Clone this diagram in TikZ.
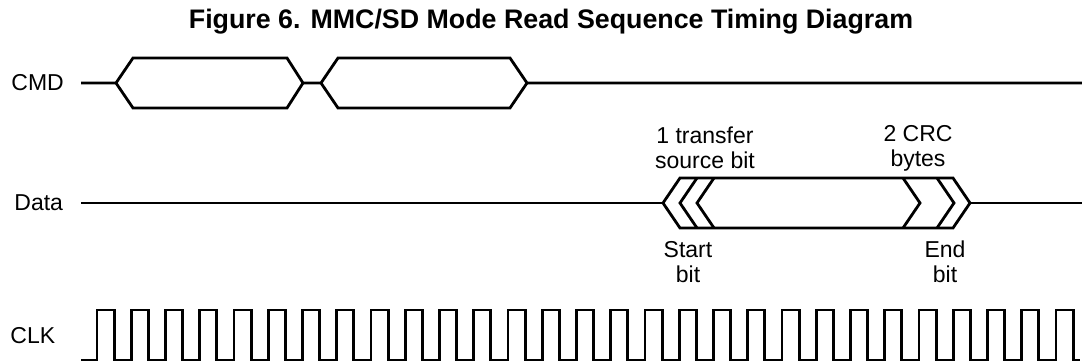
\documentclass[tikz,border=0pt]{standalone}
\usepackage{fontspec}
\setmainfont{Liberation Sans}
\usepackage{tikz}

\begin{document}
\begin{tikzpicture}[x=0.5pt,y=-0.5pt,
	wave/.style={line width=1.4pt,line join=miter},
	lbl/.style={font=\fontsize{11.5}{12.5}\selectfont,inner sep=0pt},
	note/.style={lbl,align=center}]
	\useasboundingbox (0,0) rectangle (1082,362);
	\node[font=\fontsize{13.4}{15}\selectfont\bfseries,inner sep=0pt] (title) at (551,22) {Figure 6. MMC/SD Mode Read Sequence Timing Diagram};
	% signal names
	\node[lbl,anchor=west] (cmd) at (11,83) {CMD};
	\node[lbl,anchor=west] (data) at (14,203) {Data};
	\node[lbl,anchor=west] (clk) at (10,336) {CLK};
	% CMD line
	\draw[wave] (81,83) -- (116,83) -- (133,58) -- (287,58) -- (303,83) -- (321,83) -- (338,58) -- (510,58) -- (527,83) -- (1082,83);
	\draw[wave] (116,83) -- (133,108) -- (287,108) -- (303,83);
	\draw[wave] (321,83) -- (338,108) -- (510,108) -- (527,83);
	% Data line
	\draw[wave] (81,203) -- (663,203);
	\draw[wave] (663,203) -- (680,178) -- (953,178) -- (970,203) -- (953,228) -- (680,228) -- cycle;
	\draw[wave] (970,203) -- (1082,203);
	\draw[wave] (697,178) -- (680,203) -- (697,228);
	\draw[wave] (714,178) -- (697,203) -- (714,228);
	\draw[wave] (903,178) -- (920,203) -- (903,228);
	\draw[wave] (937,178) -- (954,203) -- (937,228);
	\node[note] (src) at (705,148) {1 transfer\\source bit};
	\node[note] (crc) at (918,148) {2 CRC\\bytes};
	\node[note] (start) at (688,262) {Start\\bit};
	\node[note] (end) at (945,262) {End\\bit};
	% CLK line
	\draw[wave] (81,360) foreach \k in {0,...,28} {-- ({97+34.25*\k},360) -- ++(0,-50) -- ++(17.125,0) -- ++(0,50)} -- (1080,360);
\end{tikzpicture}
\end{document}
